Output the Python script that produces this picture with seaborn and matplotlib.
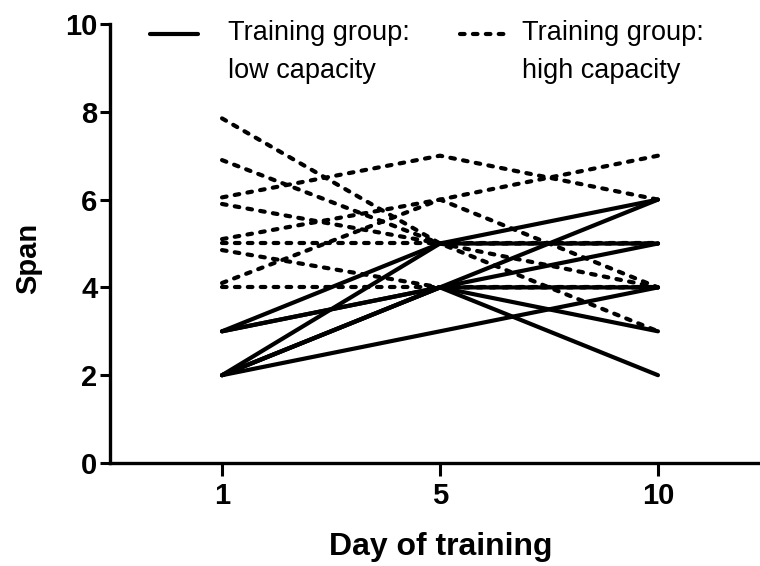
import pandas as pd
import matplotlib
matplotlib.use("Agg")
import matplotlib.pyplot as plt
import seaborn as sns

# Span per subject on each training day
days = [1, 5, 10]

low_day1 = [3, 2, 3, 3, 2, 2, 2, 2]
low_day5 = [5, 5, 4, 4, 4, 4, 4, 3]
low_day10 = [6, 5, 6, 5, 4, 3, 2, 4]

high_day1 = [7.85, 6.9, 6.05, 5.9, 5.1, 5.0, 4.85, 4.1, 4.0]
high_day5 = [5, 5, 7, 5, 6, 5, 4, 6, 4]
high_day10 = [3, 4, 6, 5, 7, 5, 4, 4, 4]

group_labels = ["Training group:\nlow capacity", "Training group:\nhigh capacity"]

# long form table for seaborn
rows = []
for grp, cols in (("low", (low_day1, low_day5, low_day10)),
                  ("high", (high_day1, high_day5, high_day10))):
    for subj in range(len(cols[0])):
        for pos, vals in enumerate(cols):
            rows.append({"subject": f"{grp}{subj}", "group": grp,
                         "pos": pos, "span": vals[subj]})
df = pd.DataFrame(rows)

sns.set_style("ticks", {"axes.edgecolor": "black", "text.color": "black",
                        "xtick.color": "black", "ytick.color": "black",
                        "axes.labelcolor": "black"})
plt.rcParams["font.family"] = ["Liberation Sans", "DejaVu Sans"]

fig = plt.figure(figsize=(7.6, 5.66), dpi=100)
ax = fig.add_axes([110 / 760, 103 / 566, 660 / 760, 439 / 566])

lw = 3.0
dash = (1.1, 2.0)
sns.lineplot(data=df[df.group == "high"], x="pos", y="span", units="subject",
             estimator=None, color="black", lw=lw, dashes=dash,
             dash_capstyle="round", ax=ax, legend=False)
sns.lineplot(data=df[df.group == "low"], x="pos", y="span", units="subject",
             estimator=None, color="black", lw=lw, solid_capstyle="round",
             ax=ax, legend=False)

ax.set_xlim(-0.514, 2.514)
ax.set_ylim(0, 10)
ax.set_xticks(range(len(days)))
ax.set_xticklabels([str(d) for d in days])
ax.set_yticks([0, 2, 4, 6, 8, 10])

for side in ("top", "right"):
    ax.spines[side].set_visible(False)
for side in ("left", "bottom"):
    ax.spines[side].set_linewidth(2.4)
ax.tick_params(axis="y", length=7, width=2.2, pad=2, labelsize=21)
ax.tick_params(axis="x", length=9, width=2.2, pad=5, labelsize=21)
for lab in ax.get_xticklabels() + ax.get_yticklabels():
    lab.set_fontweight("bold")

ax.set_ylabel("Span", fontsize=21, fontweight="bold")
ax.set_xlabel("Day of training", fontsize=23, fontweight="bold")
ax.yaxis.label.set_va("center")
ax.xaxis.label.set_va("center")
ax.yaxis.set_label_coords(-0.124, 0.465)
ax.xaxis.set_label_coords(0.5015, -0.191)

# legend drawn by hand: handle sits on the first text line
def legend_entry(x0, x1, xt, style, label):
    y = 1 - (34 - 24) / 439
    if style == "solid":
        ax.plot([x0, x1], [y, y], transform=ax.transAxes, color="black",
                lw=lw, clip_on=False)
    else:
        ax.plot([x0, x1], [y, y], transform=ax.transAxes, color="black",
                lw=lw, dashes=dash, dash_capstyle="round", clip_on=False)
    ax.text(xt, y + 0.033, label, transform=ax.transAxes, fontsize=19.5,
            va="top", ha="left", linespacing=1.6)

legend_entry((150 - 110) / 660, (198 - 110) / 660, (228 - 110) / 660,
             "solid", group_labels[0])
legend_entry((460 - 110) / 660, (510 - 110) / 660, (522 - 110) / 660,
             "dashed", group_labels[1])

fig.savefig("out.png", dpi=100)
